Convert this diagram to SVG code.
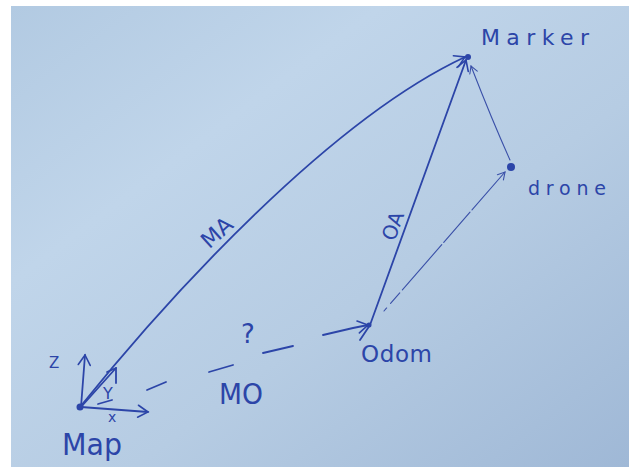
<svg xmlns="http://www.w3.org/2000/svg" width="629" height="467" viewBox="0 0 629 467">
<defs>
<linearGradient id="paper" x1="0" y1="0" x2="1" y2="1">
<stop offset="0" stop-color="#b2cae2"/>
<stop offset="0.3" stop-color="#c0d5ea"/>
<stop offset="0.6" stop-color="#b6cce3"/>
<stop offset="1" stop-color="#9fb8d6"/>
</linearGradient>
<marker id="arr" viewBox="-12 -8 14 16" markerWidth="14" markerHeight="16" refX="0" refY="0" orient="auto" markerUnits="userSpaceOnUse">
<path d="M-10,-6 L0,0 L-10,6" fill="none" stroke="#2c45a8" stroke-width="1.6" stroke-linecap="round"/>
</marker>
<marker id="arrs" viewBox="-10 -6 12 12" markerWidth="12" markerHeight="12" refX="0" refY="0" orient="auto" markerUnits="userSpaceOnUse">
<path d="M-7,-4 L0,0 L-7,4" fill="none" stroke="#3a50a8" stroke-width="1.1" stroke-linecap="round"/>
</marker>
</defs>
<style>
.pen{fill:none;stroke:#2c45a8;stroke-width:1.8;stroke-linecap:round;stroke-linejoin:round}
.thin{fill:none;stroke:#3a50a8;stroke-width:1.1;stroke-linecap:round}
.lbl{font-family:"DejaVu Sans","Liberation Sans",sans-serif;fill:#2c45a8}
.dot{fill:#2c45a8}
</style>
<rect x="0" y="0" width="629" height="467" fill="#ffffff"/>
<rect x="11" y="6" width="618" height="461" fill="url(#paper)"/>

<g id="connectors">
<path id="MA" class="pen" d="M80,407 C170,295 330,120 465,57" marker-end="url(#arr)"/>
<path id="OA" class="pen" d="M360,340 L370,325 L466,60" marker-end="url(#arr)"/>
<g id="MO" class="pen">
<line x1="147" y1="390" x2="166" y2="382"/>
<line x1="209" y1="372" x2="233" y2="365"/>
<line x1="263" y1="353" x2="293" y2="346"/>
<path d="M323,335 L353,328 L368,325" marker-end="url(#arr)"/>
</g>
<path id="OD" class="thin" d="M384,311 L505,172" stroke-dasharray="4 6 14 4 60 3 40 3 80" marker-end="url(#arrs)"/>
<path id="DM" class="thin" d="M510,160 Q492,120 471,66" marker-end="url(#arrs)"/>
<text class="lbl" x="222" y="238" font-size="22" text-anchor="middle" transform="rotate(-42 222 238)">MA</text>
<text class="lbl" x="393" y="233" font-size="20" text-anchor="middle" transform="rotate(-70 393 226)">OA</text>
<text class="lbl" x="248" y="343" font-size="26" text-anchor="middle">?</text>
<text class="lbl" x="219" y="404" font-size="28" textLength="44" lengthAdjust="spacingAndGlyphs">MO</text>
</g>

<g id="Map">
<circle class="dot" cx="80" cy="407" r="3.5"/>
<path class="pen" d="M81,407 L85,355" marker-end="url(#arr)"/>
<path class="pen" d="M81,407 L148,412" marker-end="url(#arr)"/>
<path class="pen" d="M81,407 L116,368"/>
<path class="pen" d="M107,372 L116,368 L116,383"/>
<path class="pen" d="M98,404 L112,400"/>
<text class="lbl" x="49" y="368" font-size="15">Z</text>
<text class="lbl" x="108" y="422" font-size="14">x</text>
<text class="lbl" x="103" y="399" font-size="16">Y</text>
<text class="lbl" x="62" y="455" font-size="31" textLength="60" lengthAdjust="spacingAndGlyphs">Map</text>
</g>

<g id="Marker">
<circle class="dot" cx="468" cy="57" r="3"/>
<text class="lbl" x="481" y="45" font-size="22" textLength="108" lengthAdjust="spacing">Marker</text>
</g>

<g id="drone">
<circle class="dot" cx="511" cy="167" r="4"/>
<text class="lbl" x="528" y="195" font-size="19" textLength="78" lengthAdjust="spacing">drone</text>
</g>

<g id="Odom">
<circle class="dot" cx="369" cy="325" r="2.5"/>
<text class="lbl" x="361" y="362" font-size="23" textLength="71" lengthAdjust="spacing">Odom</text>
</g>
</svg>
